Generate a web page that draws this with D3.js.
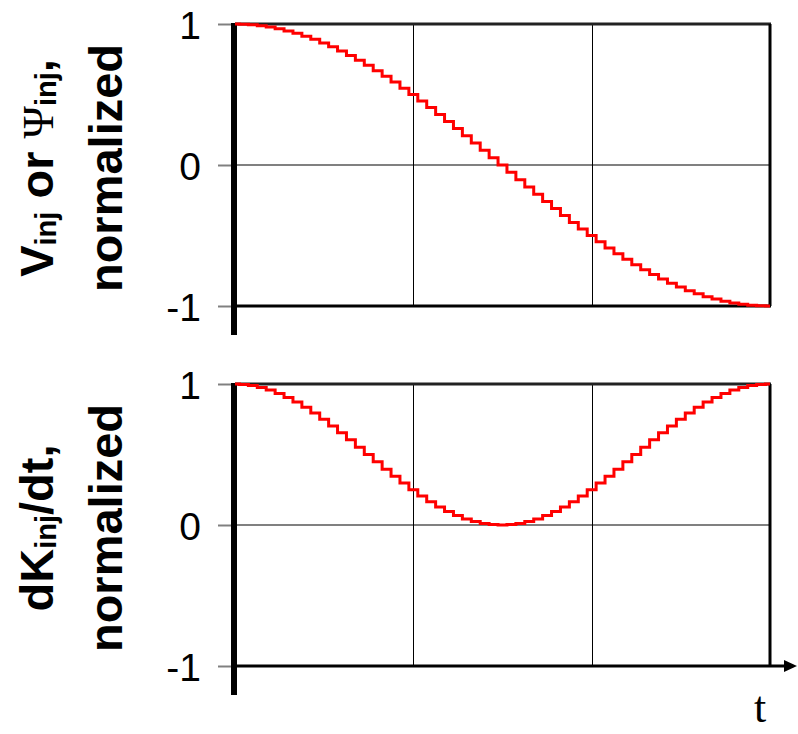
<!DOCTYPE html>
<html>
<head>
<meta charset="utf-8">
<script src="https://cdn.jsdelivr.net/npm/d3@7/dist/d3.min.js"></script>
<style>
  html, body { margin: 0; padding: 0; background: #fff; }
  svg { display: block; }
</style>
</head>
<body>
<svg id="chart" width="798" height="734"></svg>
<script>
const injVoltage = [
  1.000, 0.999, 0.995, 0.988, 0.978, 0.966, 0.951, 0.934, 0.914, 0.891,
  0.866, 0.839, 0.809, 0.777, 0.743, 0.707, 0.669, 0.629, 0.588, 0.545,
  0.500, 0.454, 0.407, 0.358, 0.309, 0.259, 0.208, 0.156, 0.105, 0.052,
  0.000, -0.052, -0.105, -0.156, -0.208, -0.259, -0.309, -0.358, -0.407, -0.454,
  -0.500, -0.545, -0.588, -0.629, -0.669, -0.707, -0.743, -0.777, -0.809, -0.839,
  -0.866, -0.891, -0.914, -0.934, -0.951, -0.966, -0.978, -0.988, -0.995, -0.999,
  -1.000
];
const dKdt = [
  1.000, 0.997, 0.989, 0.976, 0.957, 0.933, 0.905, 0.872, 0.835, 0.794,
  0.750, 0.703, 0.655, 0.604, 0.552, 0.500, 0.448, 0.396, 0.346, 0.297,
  0.250, 0.206, 0.165, 0.128, 0.095, 0.067, 0.043, 0.024, 0.011, 0.003,
  0.000, 0.003, 0.011, 0.024, 0.043, 0.067, 0.095, 0.128, 0.165, 0.206,
  0.250, 0.297, 0.346, 0.396, 0.448, 0.500, 0.552, 0.604, 0.655, 0.703,
  0.750, 0.794, 0.835, 0.872, 0.905, 0.933, 0.957, 0.976, 0.989, 0.997,
  1.000
];
const yTicks = [-1, 0, 1];
const yTickLabels = ["-1", "0", "1"];
const xGridFractions = [1/3, 2/3];

// ---- layout ----
const svg = d3.select("#chart");
const X0 = 235, X1 = 770;
const x = d3.scaleLinear().domain([0, injVoltage.length - 1]).range([X0, X1]);
const xFrac = d3.scaleLinear().domain([0, 1]).range([X0, X1]);

const panels = [
  { data: injVoltage, top: 24, bottom: 306, axisEnd: 335, lastPanel: false,
    label: [
      [{ t: "V" }, { t: "inj", sub: true }, { t: " or " }, { t: "\u03A8", psi: true }, { t: "inj", sub: true }, { t: "," }],
      [{ t: "normalized" }]
    ] },
  { data: dKdt, top: 384, bottom: 666, axisEnd: 695, lastPanel: true,
    label: [
      [{ t: "dK" }, { t: "inj", sub: true }, { t: "/dt," }],
      [{ t: "normalized" }]
    ] }
];

panels.forEach(p => {
  const y = d3.scaleLinear().domain([-1, 1]).range([p.bottom, p.top]);
  const g = svg.append("g");

  // ticks (gray) and tick labels
  const axis = d3.axisLeft(y).tickValues(yTicks).tickSize(14)
    .tickFormat(d => yTickLabels[yTicks.indexOf(d)]).tickPadding(17);
  const ag = g.append("g").attr("transform", `translate(${X0 - 3},0)`).call(axis);
  ag.select(".domain").remove();
  ag.selectAll(".tick line").attr("stroke", "#808080").attr("stroke-width", 2);
  ag.selectAll(".tick text")
    .attr("font-family", "Liberation Sans, Arial, sans-serif")
    .attr("font-size", 39).attr("fill", "#000").attr("dy", "0.36em");

  // zero gridline
  g.append("line").attr("x1", X0).attr("x2", X1)
    .attr("y1", y(0)).attr("y2", y(0))
    .attr("stroke", "#808080").attr("stroke-width", 2);

  // vertical gridlines
  g.selectAll(".vg").data(xGridFractions).enter().append("line")
    .attr("x1", d => Math.round(xFrac(d)) + 0.5).attr("x2", d => Math.round(xFrac(d)) + 0.5)
    .attr("y1", p.top).attr("y2", p.bottom)
    .attr("stroke", "#000").attr("stroke-width", 1);

  // frame: top, right, bottom
  g.append("line").attr("x1", X0).attr("x2", X1 + 1).attr("y1", y(1)).attr("y2", y(1))
    .attr("stroke", "#222").attr("stroke-width", 3);
  g.append("line").attr("x1", X1).attr("x2", X1).attr("y1", y(1)).attr("y2", y(-1))
    .attr("stroke", "#000").attr("stroke-width", 3);
  if (!p.lastPanel) {
    g.append("line").attr("x1", X0).attr("x2", X1 + 1).attr("y1", y(-1)).attr("y2", y(-1))
      .attr("stroke", "#000").attr("stroke-width", 3);
  } else {
    g.append("line").attr("x1", X0).attr("x2", 786).attr("y1", y(-1)).attr("y2", y(-1))
      .attr("stroke", "#000").attr("stroke-width", 3);
    g.append("path")
      .attr("d", `M784,${y(-1) - 6} L797,${y(-1)} L784,${y(-1) + 6} Z`)
      .attr("fill", "#000");
  }

  // thick left axis line
  g.append("line").attr("x1", X0 - 1).attr("x2", X0 - 1).attr("y1", y(1) - 1).attr("y2", p.axisEnd)
    .attr("stroke", "#000").attr("stroke-width", 6);

  // curve
  const line = d3.line().x((d, i) => x(i)).y(d => y(d)).curve(d3.curveStep);
  g.append("path").datum(p.data).attr("d", line)
    .attr("fill", "none").attr("stroke", "#ff0000").attr("stroke-width", 3);

  // y label (rotated, two lines)
  const cy = (p.top + p.bottom) / 2 + 3;
  const baselines = [53, 122];
  p.label.forEach((parts, li) => {
    const txt = svg.append("text")
      .attr("transform", `translate(${baselines[li]},${cy}) rotate(-90)`)
      .attr("text-anchor", "middle")
      .attr("font-family", "Liberation Sans, Arial, sans-serif")
      .attr("font-size", 47).attr("font-weight", "bold").attr("fill", "#000");
    parts.forEach((part, i) => {
      const ts = txt.append("tspan").text(part.t);
      if (part.sub) {
        ts.attr("font-size", 29).attr("dy", 3);
      } else if (i > 0 && parts[i - 1].sub) {
        ts.attr("dy", -3);
      }
      if (part.psi) {
        ts.attr("font-family", "Liberation Serif, Times New Roman, serif")
          .attr("font-weight", "normal").attr("font-size", 44);
      }
    });
  });
});

// x-axis label
svg.append("text").attr("x", 760).attr("y", 722)
  .attr("text-anchor", "middle")
  .attr("font-family", "Liberation Serif, Times New Roman, serif")
  .attr("font-size", 44).attr("fill", "#000").text("t");
</script>
</body>
</html>
